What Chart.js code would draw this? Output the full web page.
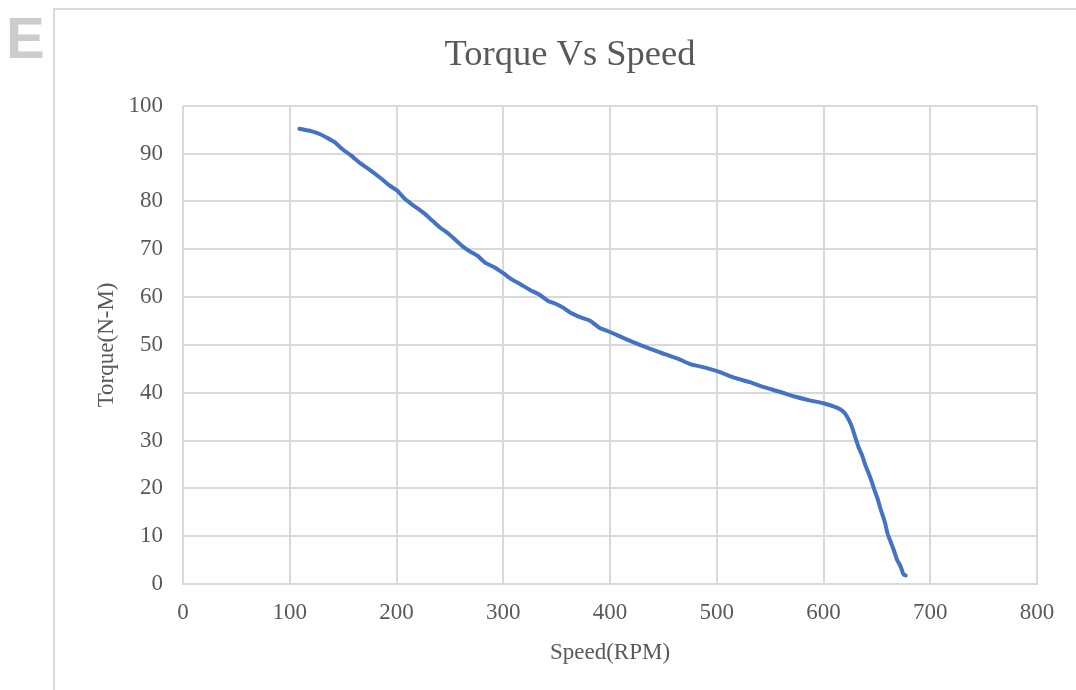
<!DOCTYPE html>
<html>
<head>
<meta charset="utf-8">
<script src="https://cdn.jsdelivr.net/npm/chart.js@4/dist/chart.umd.min.js"></script>
<style>
  html, body { margin: 0; padding: 0; background: #ffffff; width: 1076px; height: 690px; overflow: hidden; }
  #frame { position: absolute; left: 53px; top: 8px; width: 1100px; height: 800px;
           border-left: 2px solid #d9d9d9; border-top: 2px solid #d9d9d9; }
  #mark { position: absolute; left: 6px; top: 8px; font: bold 58px "Liberation Sans", Arial, sans-serif;
          line-height: 60px; color: #cccccc; }
  #wrap { position: absolute; left: 0; top: 0; width: 1076px; height: 690px; }
</style>
</head>
<body>
<div id="frame"></div>
<div id="mark">E</div>
<div id="wrap"><canvas id="c" width="1076" height="690"></canvas></div>
<script>
const chartTitle = "Torque Vs Speed";
const xAxisTitle = "Speed(RPM)";
const yAxisTitle = "Torque(N-M)";

const speed = [109, 120, 128, 135, 142, 150, 157, 166, 175, 185, 193, 201, 208, 215, 226, 234, 241, 248, 255, 262,
  269, 276, 283, 292, 300, 308, 316, 325, 334, 342, 349, 356, 363, 372, 381, 390, 400, 415, 428, 440,
  452, 464, 475, 490, 503, 517, 531, 545, 559, 573, 587, 600, 610, 616, 620, 624, 627, 630, 633, 636,
  639, 642, 645, 648, 651, 653, 656, 658, 660, 663, 666, 669, 672, 675, 677];
const torque = [95.2, 94.7, 94.1, 93.3, 92.4, 90.8, 89.7, 88.0, 86.6, 84.9, 83.4, 82.2, 80.5, 79.3, 77.5, 75.9, 74.5, 73.4, 72.0, 70.6,
  69.5, 68.6, 67.2, 66.2, 65.0, 63.7, 62.7, 61.5, 60.5, 59.2, 58.6, 57.8, 56.7, 55.8, 55.1, 53.6, 52.7, 51.2, 50.0, 49.0,
  48.0, 47.1, 46.0, 45.2, 44.3, 43.1, 42.2, 41.1, 40.2, 39.2, 38.4, 37.8, 37.1, 36.5, 35.7, 34.2, 32.6, 30.5, 28.5, 27.0,
  25.0, 23.3, 21.5, 19.5, 17.6, 16.0, 14.0, 12.5, 10.5, 8.8, 7.0, 5.0, 3.8, 2.0, 1.8];

const xTicks = [0, 100, 200, 300, 400, 500, 600, 700, 800];
const yTicks = [0, 10, 20, 30, 40, 50, 60, 70, 80, 90, 100];

const points = speed.map((s, i) => ({ x: s, y: torque[i] }));
const serif = "'Liberation Serif', 'Times New Roman', serif";
const textColor = '#595959';
const gridColor = '#d9d9d9';

new Chart(document.getElementById('c'), {
  type: 'scatter',
  data: {
    datasets: [{
      data: points,
      showLine: true,
      borderColor: '#4472C4',
      backgroundColor: '#4472C4',
      borderWidth: 4,
      pointRadius: 0,
      tension: 0.2,
      borderCapStyle: 'round',
      borderJoinStyle: 'round'
    }]
  },
  options: {
    responsive: false,
    animation: false,
    devicePixelRatio: 1,
    layout: { padding: { left: 64, right: 0, top: 0, bottom: 0 } },
    plugins: {
      legend: { display: false },
      tooltip: { enabled: false },
      title: {
        display: true,
        text: chartTitle,
        color: textColor,
        font: { family: serif, size: 36.5, weight: 'normal' },
        padding: { top: 34, bottom: 28 }
      }
    },
    scales: {
      x: {
        type: 'linear',
        min: xTicks[0],
        max: xTicks[xTicks.length - 1],
        afterBuildTicks: (s) => { s.ticks = xTicks.map(v => ({ value: v })); },
        afterFit: (s) => { s.height = 106; },
        grid: { color: gridColor, lineWidth: 2, drawTicks: false },
        border: { color: gridColor, width: 2 },
        ticks: { color: textColor, font: { family: serif, size: 23 }, padding: 15, maxRotation: 0 },
        title: {
          display: true, text: xAxisTitle, color: textColor,
          font: { family: serif, size: 23 }, padding: { top: 23, bottom: 23 }
        }
      },
      y: {
        type: 'linear',
        min: yTicks[0],
        max: yTicks[yTicks.length - 1],
        afterBuildTicks: (s) => { s.ticks = yTicks.map(v => ({ value: v })); },
        afterFit: (s) => { s.width = 119; },
        grid: { color: gridColor, lineWidth: 2, drawTicks: false },
        border: { display: false },
        ticks: { color: textColor, font: { family: serif, size: 23 }, padding: 20 },
        title: {
          display: true, text: yAxisTitle, color: textColor,
          font: { family: serif, size: 23 }, padding: { top: 29, bottom: 29 }
        }
      },
      yRight: {
        type: 'linear',
        position: 'right',
        display: true,
        min: 0, max: 100,
        afterFit: (s) => { s.width = 39; },
        grid: { display: false, drawTicks: false },
        border: { display: false },
        ticks: { display: false }
      }
    }
  }
});
</script>
</body>
</html>
